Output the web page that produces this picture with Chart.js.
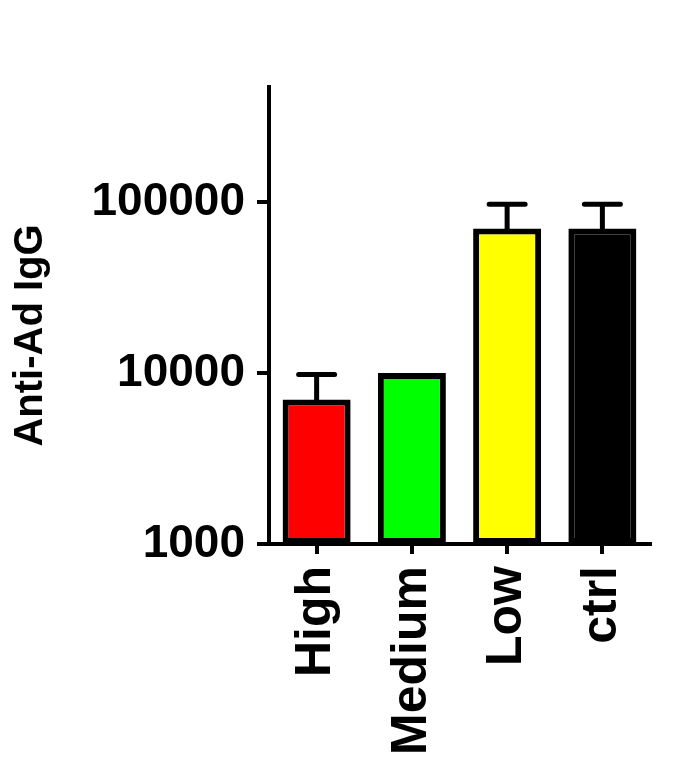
<!DOCTYPE html>
<html>
<head>
<meta charset="utf-8">
<script src="https://cdn.jsdelivr.net/npm/chart.js@4.4.1/dist/chart.umd.min.js"></script>
<style>
    html, body { margin: 0; padding: 0; background: #fff; }
    #wrap { width: 691px; height: 776px; }
</style>
</head>
<body>
<div id="wrap"><canvas id="grafico" width="691" height="776"></canvas></div>
<script>
const categorias = ['High', 'Medium', 'Low', 'ctrl'];
const medias = [7000, 10000, 70000, 70000];
const errosSuperiores = [9800, null, 97000, 97000];
const coresBarras = ['#ff0000', '#00ff00', '#ffff00', '#000000'];
const ticksY = [1000, 10000, 100000];
const limiteY = [1000, 470000];
const tituloY = 'Anti-Ad IgG';

const fonte = '"Liberation Sans", Arial, sans-serif';

// barras de erro (somente para cima) + titulo do eixo Y um pouco abaixo do centro
const barrasDeErro = {
    id: 'barrasDeErro',
    afterDatasetsDraw(chart) {
        const ctx = chart.ctx;
        const escalaY = chart.scales.y;
        const meta = chart.getDatasetMeta(0);
        ctx.save();
        ctx.strokeStyle = '#000';
        ctx.lineWidth = 5;
        ctx.lineCap = 'round';
        meta.data.forEach((barra, i) => {
            const topo = errosSuperiores[i];
            if (topo == null) return;
            const yTopo = escalaY.getPixelForValue(topo);
            ctx.beginPath();
            ctx.moveTo(barra.x, barra.y);
            ctx.lineTo(barra.x, yTopo);
            ctx.moveTo(barra.x - 18, yTopo);
            ctx.lineTo(barra.x + 18, yTopo);
            ctx.stroke();
        });
        ctx.restore();
    },
    afterDraw(chart) {
        const ctx = chart.ctx;
        const area = chart.chartArea;
        ctx.save();
        ctx.translate(31, (area.top + area.bottom) / 2 + 20);
        ctx.rotate(-Math.PI / 2);
        ctx.fillStyle = '#000';
        ctx.font = 'bold 40px ' + fonte;
        ctx.textAlign = 'center';
        ctx.textBaseline = 'middle';
        ctx.fillText(tituloY, 0, 0);
        ctx.restore();
    }
};

new Chart(document.getElementById('grafico'), {
    type: 'bar',
    data: {
        labels: categorias,
        datasets: [{
            data: medias,
            backgroundColor: coresBarras,
            borderColor: '#000',
            borderWidth: 6,
            borderSkipped: false,
            barPercentage: 0.714,
            categoryPercentage: 1,
        }],
    },
    options: {
        responsive: false,
        animation: false,
        devicePixelRatio: 1,
        layout: { padding: { top: 87, right: 41, left: 0, bottom: 0 } },
        plugins: { legend: { display: false }, tooltip: { enabled: false } },
        scales: {
            x: {
                offset: true,
                grid: { display: true, drawOnChartArea: false, offset: false, color: '#000', lineWidth: 4, tickLength: 10 },
                border: { display: true, color: '#000', width: 4 },
                ticks: {
                    color: '#000',
                    font: { family: fonte, size: 50, weight: 'bold' },
                    minRotation: 90,
                    maxRotation: 90,
                    padding: 12,
                    autoSkip: false,
                },
                afterFit(scale) { scale.height = 232; },
            },
            y: {
                type: 'logarithmic',
                min: limiteY[0],
                max: limiteY[1],
                grid: { display: true, drawOnChartArea: false, color: '#000', lineWidth: 4, tickLength: 12 },
                border: { display: true, color: '#000', width: 4 },
                ticks: {
                    color: '#000',
                    font: { family: fonte, size: 46, weight: 'bold' },
                    padding: 12,
                    callback: (v) => String(v),
                },
                afterBuildTicks(scale) { scale.ticks = ticksY.map(v => ({ value: v })); },
                afterFit(scale) { scale.width = 269; },
            },
        },
    },
    plugins: [barrasDeErro],
});
</script>
</body>
</html>
